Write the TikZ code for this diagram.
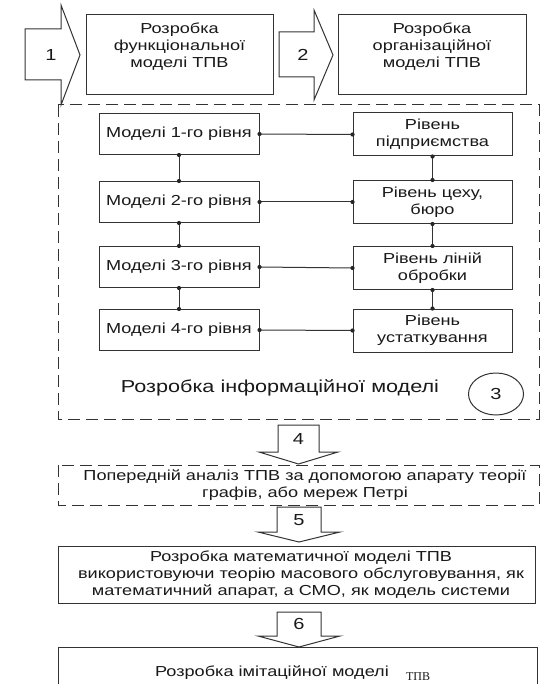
\documentclass[tikz,border=0pt]{standalone}
\usepackage{fontspec}
\setmainfont{Liberation Sans}[FakeStretch=1.25]
\newfontfamily\serifT{Liberation Serif}
\usetikzlibrary{shapes.geometric}
\begin{document}
\begin{tikzpicture}[x=1pt,y=-1pt,
  ln/.style={draw=black!80, line width=1pt},
  box/.style={ln, rectangle, inner sep=0pt},
  dbox/.style={draw=black!80, line width=1pt, dash pattern=on 12pt off 6pt},
  txt/.style={align=center, font=\fontsize{14.5}{17}\selectfont, text=black!90, inner sep=0pt},
  bigtxt/.style={align=center, font=\fontsize{17.3}{21}\selectfont, text=black!90, inner sep=0pt},
  num/.style={font=\fontsize{16}{19}\selectfont, text=black!90, inner sep=0pt},
  dot/.style={circle, fill=black!85, inner sep=0pt, minimum size=4.2pt},
  barrow/.style={draw=black!80, line width=1pt, line join=miter, fill=white},
  lbox/.style={box, minimum width=160pt, minimum height=41pt, txt},
  rbox/.style={box, minimum width=159pt, minimum height=43pt, txt}]
\useasboundingbox (0,0) rectangle (540,684);
\fill[white] (0,0) rectangle (540,684);

% top row
\draw[barrow] (25,29) -- (61,29) -- (61,5) -- (80,55) -- (61,105) -- (61,80) -- (25,80) -- cycle;
\node[num] (n1) at (51,55) {1};
\node[box, minimum width=187pt, minimum height=80pt] (b1) at (179.5,55) {};
\node[txt] (t1) at (179.5,47) {Розробка\\функціональної\\моделі ТПВ};
\draw[barrow] (279,32) -- (314,32) -- (314,10) -- (333,55) -- (314,100) -- (314,77) -- (279,77) -- cycle;
\node[num] (n2) at (303,55) {2};
\node[box, minimum width=188pt, minimum height=80pt] (b2) at (432,55) {};
\node[txt] (t2) at (432,47) {Розробка\\організаційної\\моделі ТПВ};

% information model
\draw[dbox] (58,105) rectangle (539,419);
\node[lbox] (l1) at (179,134) {Моделі 1-го рівня};
\node[lbox] (l2) at (179,202) {Моделі 2-го рівня};
\node[lbox] (l3) at (179,267) {Моделі 3-го рівня};
\node[lbox] (l4) at (179,330) {Моделі 4-го рівня};
\node[rbox] (r1) at (432.5,134.5) {Рівень\\підприємства};
\node[rbox] (r2) at (432.5,202) {Рівень цеху,\\бюро};
\node[rbox] (r3) at (432.5,268) {Рівень ліній\\обробки};
\node[rbox] (r4) at (432.5,330.5) {Рівень\\устаткування};
\foreach \i in {1,2,3,4}{
  \draw[ln] (l\i.east) -- (r\i.west);
  \node[dot] at (l\i.east) {};
  \node[dot] at (r\i.west) {};
}
\foreach \i/\j in {1/2,2/3,3/4}{
  \draw[ln] (l\i.south) -- (l\j.north);
  \draw[ln] (r\i.south) -- (r\j.north);
  \node[dot] at (l\i.south) {};
  \node[dot] at (l\j.north) {};
  \node[dot] at (r\i.south) {};
  \node[dot] at (r\j.north) {};
}
\node[bigtxt] (info) at (280,388) {Розробка інформаційної моделі};
\node[ellipse, ln, minimum width=55pt, minimum height=42pt, num] (c3) at (496,394) {3};

% step 4
\draw[barrow] (278,425) -- (319,425) -- (319,452) -- (338,452) -- (298.5,464) -- (259,452) -- (278,452) -- cycle;
\node[num] (n4) at (298.5,439) {4};
\draw[dbox] (58,465) rectangle (539,505);
\node[txt] (t4) at (305,485.5) {Попередній аналіз ТПВ за допомогою апарату теорії\\графів, або мереж Петрі};

% step 5
\draw[barrow] (277,507) -- (321,507) -- (321,532) -- (340,532) -- (299,542) -- (258,532) -- (277,532) -- cycle;
\node[num] (n5) at (299,520) {5};
\node[box, minimum width=477pt, minimum height=57pt] (b5) at (296.5,574.5) {};
\node[txt] (t5) at (301,575) {Розробка математичної моделі ТПВ\\використовуючи теорію масового обслуговування, як\\математичний апарат, а СМО, як модель системи};

% step 6
\draw[barrow] (277,612) -- (321,612) -- (321,636) -- (340,636) -- (299,647) -- (258,636) -- (277,636) -- cycle;
\node[num] (n6) at (299,624) {6};
\draw[ln] (58,700) -- (58,647) -- (537,647) -- (537,700);
\node[txt] (t6) at (272,673) {Розробка імітаційної моделі};
\node[font=\serifT\fontsize{12}{14}\selectfont, text=black!90, inner sep=0pt] (t6b) at (418,677) {ТПВ};
\end{tikzpicture}
\end{document}
